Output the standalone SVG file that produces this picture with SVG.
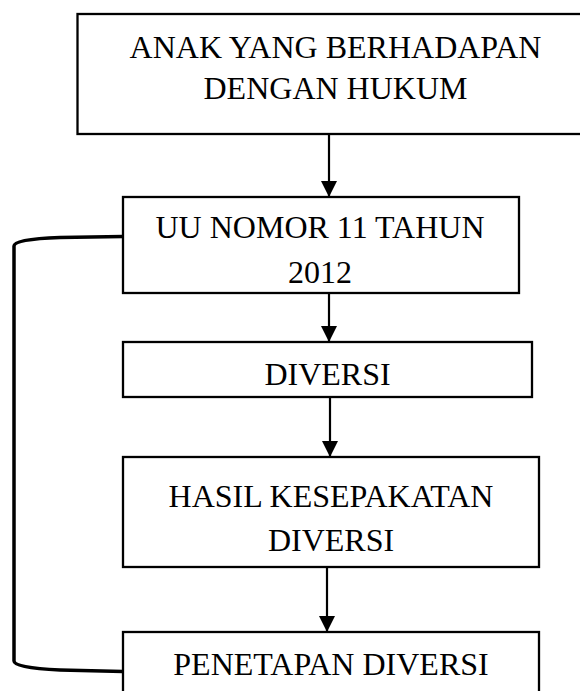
<svg xmlns="http://www.w3.org/2000/svg" width="580" height="691" viewBox="0 0 580 691">
<style>
.box{fill:#fff;stroke:#000;stroke-width:2.3}
.t{font-family:"Liberation Serif","Times New Roman",serif;font-size:32px;fill:#000;text-anchor:middle}
.c{fill:none;stroke:#000;stroke-width:2.2}
.br{fill:none;stroke:#000;stroke-width:3.5}
</style>
<defs>
<marker id="ah" markerWidth="16" markerHeight="16" refX="16" refY="8" orient="auto" markerUnits="userSpaceOnUse">
<path d="M0,0 L16,8 L0,16 Z" fill="#000"/>
</marker>
</defs>
<g id="connectors">
<line class="c" x1="329" y1="134" x2="329" y2="197" marker-end="url(#ah)"/>
<line class="c" x1="329" y1="293" x2="329" y2="342" marker-end="url(#ah)"/>
<line class="c" x1="330" y1="397" x2="330" y2="457" marker-end="url(#ah)"/>
<line class="c" x1="327" y1="567" x2="327" y2="632" marker-end="url(#ah)"/>
<path class="br" d="M123,236.5 L60,237.5 Q14,239 14,246 L14,661 Q14,668 60,670 L123,671.5"/>
</g>
<g id="n1">
<rect class="box" x="77.5" y="14" width="520" height="120"/>
<text class="t" x="335.5" y="58">ANAK YANG BERHADAPAN</text>
<text class="t" x="335.5" y="99">DENGAN HUKUM</text>
</g>
<g id="n2">
<rect class="box" x="123" y="197" width="396" height="96"/>
<text class="t" x="320" y="238">UU NOMOR 11 TAHUN</text>
<text class="t" x="320" y="283">2012</text>
</g>
<g id="n3">
<rect class="box" x="123" y="342" width="409" height="55"/>
<text class="t" x="327.5" y="385">DIVERSI</text>
</g>
<g id="n4">
<rect class="box" x="123" y="457" width="416" height="110"/>
<text class="t" x="331" y="507">HASIL KESEPAKATAN</text>
<text class="t" x="331" y="551">DIVERSI</text>
</g>
<g id="n5">
<rect class="box" x="123" y="632" width="416" height="80"/>
<text class="t" x="331" y="675">PENETAPAN DIVERSI</text>
</g>
</svg>
